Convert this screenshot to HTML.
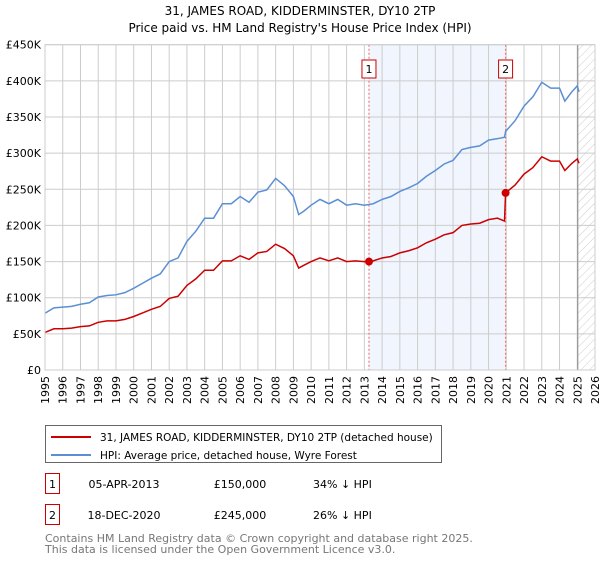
<!DOCTYPE html>
<html><head><meta charset="utf-8"><style>
body{margin:0;background:#fff;}
svg text{font-family:"DejaVu Sans","Liberation Sans",sans-serif;}
</style></head><body>
<svg id="chart" width="600" height="560" viewBox="0 0 600 560" xmlns="http://www.w3.org/2000/svg">
<defs>
<pattern id="hatch" width="6" height="6" patternUnits="userSpaceOnUse" patternTransform="rotate(45)">
<line x1="0" y1="0" x2="0" y2="6" stroke="#ccc" stroke-width="1"/>
</pattern>
</defs>
<text x="300" y="15" text-anchor="middle" font-size="12" fill="#000">31, JAMES ROAD, KIDDERMINSTER, DY10 2TP</text>
<text x="300" y="32" text-anchor="middle" font-size="12" fill="#000">Price paid vs. HM Land Registry's House Price Index (HPI)</text>
<g id="plot"></g>
<g>
<rect x="45.5" y="425.5" width="396" height="37" fill="#fff" stroke="#666"/>
<line x1="51" y1="437" x2="91" y2="437" stroke="#cc0000" stroke-width="2"/>
<text x="100" y="441" font-size="10.5">31, JAMES ROAD, KIDDERMINSTER, DY10 2TP (detached house)</text>
<line x1="51" y1="455" x2="91" y2="455" stroke="#5b8fd4" stroke-width="2"/>
<text x="100" y="459" font-size="10.5">HPI: Average price, detached house, Wyre Forest</text>
</g>
<g>
<rect x="45.5" y="473.5" width="14" height="20" fill="#fff" stroke="#cc0000"/>
<text x="52.5" y="488" text-anchor="middle" font-size="11">1</text>
<text x="124" y="488" text-anchor="middle" font-size="11">05-APR-2013</text>
<text x="240" y="488" text-anchor="middle" font-size="11">£150,000</text>
<text x="313" y="488" font-size="11">34% ↓ HPI</text>
<rect x="45.5" y="504.5" width="14" height="20" fill="#fff" stroke="#cc0000"/>
<text x="52.5" y="519" text-anchor="middle" font-size="11">2</text>
<text x="124" y="519" text-anchor="middle" font-size="11">18-DEC-2020</text>
<text x="240" y="519" text-anchor="middle" font-size="11">£245,000</text>
<text x="313" y="519" font-size="11">26% ↓ HPI</text>
</g>
<text x="45" y="542" font-size="11" fill="#777">Contains HM Land Registry data © Crown copyright and database right 2025.</text>
<text x="45" y="553" font-size="11" fill="#777">This data is licensed under the Open Government Licence v3.0.</text>
</svg>
<script>
const years=[1995,1995.5,1996,1996.5,1997,1997.5,1998,1998.5,1999,1999.5,2000,2000.5,2001,2001.5,2002,2002.5,2003,2003.5,2004,2004.5,2005,2005.5,2006,2006.5,2007,2007.5,2008,2008.5,2009,2009.3,2009.6,2010,2010.5,2011,2011.5,2012,2012.5,2013,2013.26,2013.5,2014,2014.5,2015,2015.5,2016,2016.5,2017,2017.5,2018,2018.5,2019,2019.5,2020,2020.5,2020.9,2020.96,2021.5,2022,2022.5,2023,2023.5,2024,2024.3,2024.7,2025,2025.1];
const hpiValues=[78.5,86,87,88,91,93,101,103,104,107,113,120,127,133,150,155,178,192,210,210,230,230,240,232,246,249,265,255,240,215,220,228,236,230,236,228,230,228,229,230,236,240,247,252,258,268,276,285,290,305,308,310,318,320,322,330,345,365,378,398,390,390,372,385,393,385];
const priceValues=[52,57,57,58,60,61,66,68,68,70,74,79,84,88,99,102,117,126,138,138,151,151,158,153,162,164,174,168,158,141,145,150,155,151,155,150,151,150,150,151,155,157,162,165,169,176,181,187,190,200,202,203,208,210,206,245,256,271,280,295,289,289,276,286,292,286];
const saleYears=[2013.26,2020.96];
const salePrices=[150,245];
const saleLabels=["1","2"];
const yTicks=[0,50,100,150,200,250,300,350,400,450];
const yTickLabels=["£0","£50K","£100K","£150K","£200K","£250K","£300K","£350K","£400K","£450K"];
const xTicks=[];for(let y=1995;y<=2026;y++)xTicks.push(y);

const L=45,R=595,T=44.7,B=370;
const X=v=>L+(v-1995)/(2026-1995)*(R-L);
const Y=v=>B-v/450*(B-T);
const NS="http://www.w3.org/2000/svg";
const g=document.getElementById('plot');
function mk(tag,attrs,parent){const e=document.createElementNS(NS,tag);for(const k in attrs)e.setAttribute(k,attrs[k]);(parent||g).appendChild(e);return e;}

const shade=mk('rect',{x:X(saleYears[0]),y:T,width:X(saleYears[1])-X(saleYears[0]),height:B-T,fill:'#eef3fc',opacity:'0.8'});


const hatch=mk('rect',{x:X(2025.03),y:T,width:R-X(2025.03),height:B-T,fill:'url(#hatch)'});



xTicks.forEach(v=>{
 const l=mk('line',{x1:X(v),x2:X(v),y1:T,y2:B,stroke:'#ccc','stroke-width':1});
 
 
 const t=mk('text',{x:0,y:0,'font-size':11,'text-anchor':'end',transform:`translate(${X(v)+4},${B+6}) rotate(-90)`});
 t.textContent=v;
 
 
});
yTicks.forEach((v,i)=>{
 const l=mk('line',{x1:L,x2:R,y1:Y(v),y2:Y(v),stroke:'#ccc','stroke-width':1});
 
 
 const t=mk('text',{x:L-4,y:Y(v)+4,'font-size':11,'text-anchor':'end'});
 t.textContent=yTickLabels[i];
 
 
});
const nowLine=mk('line',{x1:X(2025.03),x2:X(2025.03),y1:T,y2:B,stroke:'#888','stroke-width':1});



saleYears.forEach((v,i)=>{
 const l=mk('line',{x1:X(v),x2:X(v),y1:T,y2:B,stroke:'#e66','stroke-width':1,'stroke-dasharray':'2,2'});
 
 
 const r=mk('rect',{x:X(v)-7,y:60,width:14,height:18,fill:'#fff',stroke:'#cc0000'});
 
 
 const t=mk('text',{x:X(v),y:73,'font-size':11,'text-anchor':'middle'});
 t.textContent=saleLabels[i];
 
 
});

const hp=mk('polyline',{points:years.map((y,i)=>X(y)+','+Y(hpiValues[i])).join(' '),fill:'none',stroke:'#5b8fd4','stroke-width':1.5});


const pp=mk('polyline',{points:years.map((y,i)=>X(y)+','+Y(priceValues[i])).join(' '),fill:'none',stroke:'#cc0000','stroke-width':1.5});


saleYears.forEach((v,i)=>{
 const c=mk('circle',{cx:X(v),cy:Y(salePrices[i]),r:4,fill:'#cc0000'});
 
 
});
const frame=mk('rect',{x:L,y:T,width:R-L,height:B-T,fill:'none',stroke:'#ccc'});


</script>
</body></html>
